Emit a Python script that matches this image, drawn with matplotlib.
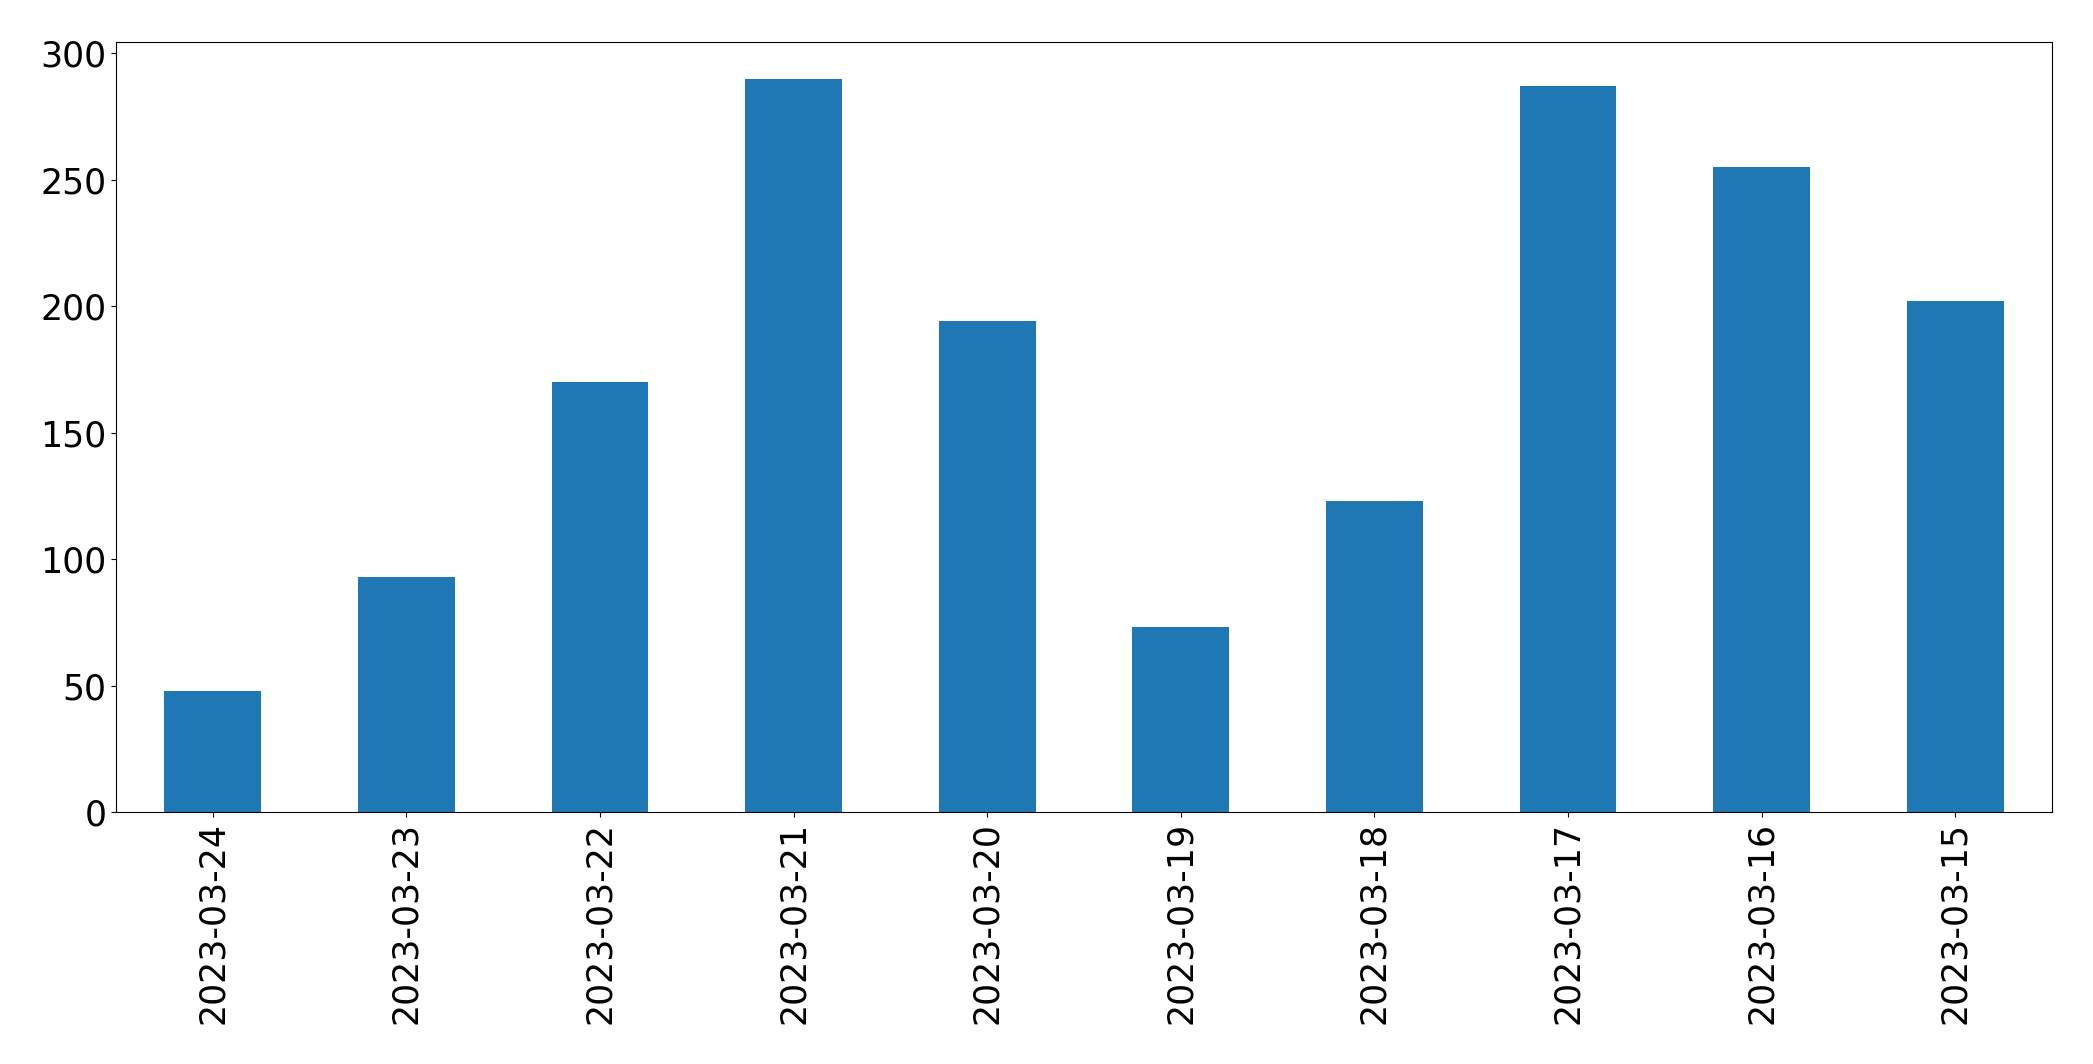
import numpy as np
import matplotlib
matplotlib.use("Agg")
import matplotlib.pyplot as plt

dates = ["2023-03-24", "2023-03-23", "2023-03-22", "2023-03-21", "2023-03-20",
         "2023-03-19", "2023-03-18", "2023-03-17", "2023-03-16", "2023-03-15"]
counts = [48, 93, 170, 290, 194, 73, 123, 287, 255, 202]

fig = plt.figure(figsize=(20.93, 10.64), dpi=100)
ax = fig.add_axes([116 / 2093, 1 - 812 / 1064, (2052 - 116) / 2093, (812 - 42) / 1064])
x = np.arange(len(dates))
ax.bar(x, counts, width=0.5, color="#1f77b4")
ax.set_xlim(-0.5, len(dates) - 0.5)
ax.set_xticks(x)
ax.set_xticklabels(dates, rotation=90)
ax.set_yticks([0, 50, 100, 150, 200, 250, 300])
ax.set_ylim(0, 304.5)
ax.tick_params(labelsize=25)
fig.savefig("out.png", dpi=100)
